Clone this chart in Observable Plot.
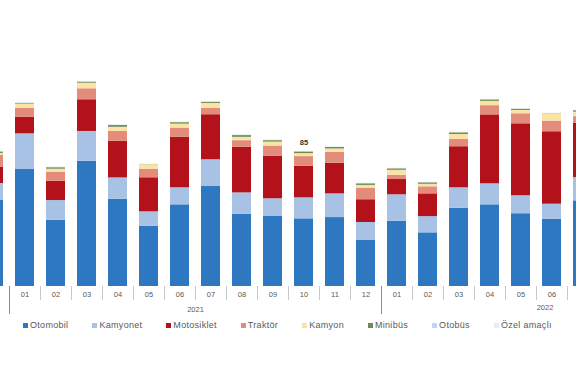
<!DOCTYPE html>
<html>
<head>
<meta charset="utf-8">
<script src="https://cdn.jsdelivr.net/npm/d3@7"></script>
<script src="https://cdn.jsdelivr.net/npm/@observablehq/plot@0.6"></script>
<style>
  html, body { margin: 0; padding: 0; background: #fff; }
  #wrap { position: relative; width: 576px; height: 384px; overflow: hidden; font-family: "Liberation Sans", Arial, sans-serif; }
  #chart { position: absolute; left: -22.5px; top: 0; width: 620px; height: 326px; }
  #chart svg { max-width: none !important; width: 620px; height: 326px; }
  #legend { position: absolute; left: 23px; top: 320px; display: flex; gap: 24px; font-size: 9px; color: #595959; letter-spacing: 0.3px; white-space: nowrap; }
  #legend span.item { display: flex; align-items: center; }
  #legend span.sw { display: inline-block; width: 5px; height: 5px; margin-right: 2px; }
</style>
</head>
<body>
<div id="wrap">
  <div id="chart"></div>
  <div id="legend"></div>
</div>
<script>
const months = ["2020-12","2021-01","2021-02","2021-03","2021-04","2021-05","2021-06","2021-07","2021-08","2021-09","2021-10","2021-11","2021-12","2022-01","2022-02","2022-03","2022-04","2022-05","2022-06","2022-07"];
const monthLabels = ["12","01","02","03","04","05","06","07","08","09","10","11","12","01","02","03","04","05","06","07"];
const types = ["Otomobil","Kamyonet","Motosiklet","Traktör","Kamyon","Minibüs","Otobüs","Özel amaçlı"];
const colors = ["#2E78C2","#A7C2E4","#B3121A","#E38C7C","#FBE3A4","#6E8B52","#BDD7EE","#E2EEF8"];

// thousands
const otomobil   = [54.0, 73.5, 41.6, 78.7, 54.8, 37.9, 51.3, 62.8, 45.4, 44.0, 42.5, 43.3, 28.9, 41.0, 33.7, 49.2, 51.3, 45.7, 42.3, 53.8];
const kamyonet   = [10.7, 22.4, 12.4, 18.7, 13.4,  9.0, 10.7, 16.8, 13.4, 11.1, 13.2, 14.9, 11.3, 16.6, 10.2, 12.8, 13.2, 11.3,  9.4, 14.6];
const motosiklet = [10.1, 10.5, 12.1, 19.9, 23.0, 21.4, 31.8, 28.3, 28.6, 26.6, 19.8, 19.2, 14.3,  9.6, 14.3, 25.8, 43.3, 45.2, 45.5, 34.1];
const traktor    = [ 7.5,  5.5,  5.7,  6.9,  6.3,  5.4,  5.7,  4.0,  4.2,  6.5,  6.1,  6.9,  7.3,  2.7,  4.4,  4.6,  5.8,  6.3,  6.7,  4.2];
const kamyon     = [ 1.3,  2.7,  1.9,  3.5,  2.5,  2.8,  2.5,  3.1,  2.1,  2.5,  1.9,  2.1,  1.7,  3.1,  1.6,  3.1,  2.7,  2.1,  4.6,  2.8];
const minibus    = [ 0.9,  0.4,  0.9,  0.7,  1.1,  0.1,  0.9,  0.7,  1.1,  0.9,  1.0,  0.9,  1.0,  0.9,  0.9,  1.0,  0.9,  0.7,  0.1,  0.9];
const otobus     = [ 0.2,  0.2,  0.2,  0.2,  0.2,  0.1,  0.2,  0.2,  0.2,  0.2,  0.2,  0.2,  0.2,  0.2,  0.2,  0.2,  0.2,  0.2,  0.1,  0.2];
const ozel       = [ 0.2,  0.2,  0.2,  0.2,  0.2,  0.1,  0.2,  0.2,  0.2,  0.2,  0.2,  0.2,  0.2,  0.2,  0.2,  0.2,  0.2,  0.2,  0.1,  0.2];
const labelledMonths = ["2021-10"];
const years = ["2021","2022"];

const series = [otomobil, kamyonet, motosiklet, traktor, kamyon, minibus, otobus, ozel];
const data = months.flatMap((m, i) => types.map((t, j) => ({month: m, type: t, value: series[j][i]})));
const totals = months.map((m, i) => ({month: m, total: d3.sum(series, s => s[i])}));

const step = 31;
const chart = Plot.plot({
  width: 620,
  height: 326,
  marginLeft: 0,
  marginRight: 0,
  marginTop: 16,
  marginBottom: 40,
  x: {type: "band", domain: months, paddingInner: 0.4, paddingOuter: 0.2, axis: null, label: null},
  y: {domain: [0, 169.6], axis: null},
  color: {domain: types, range: colors},
  style: {fontFamily: "'Liberation Sans', Arial, sans-serif", fontSize: "7.5px", color: "#595959", background: "transparent"},
  marks: [
    Plot.barY(data, {x: "month", y: "value", fill: "type"}),
    Plot.text(totals.filter(d => labelledMonths.includes(d.month)), {x: "month", y: "total", text: d => Math.round(d.total), dy: -9, fill: "#333", fontWeight: "bold", fontSize: 7.5}),
    Plot.axisX({ticks: months.slice(1, -1), tickSize: 0, tickPadding: 5, label: null, tickFormat: d => monthLabels[months.indexOf(d)], fill: "#595959"}),
    Plot.axisX({ticks: months, tickSize: 14, label: null, tickFormat: () => "", dx: step / 2, stroke: "#c8c8c8"}),
    Plot.axisX({ticks: ["2020-12","2021-12"], tickSize: 28, label: null, tickFormat: () => "", dx: step / 2, stroke: "#8c8c8c"}),
    Plot.axisX({ticks: ["2021-06"], tickSize: 0, tickPadding: 20, label: null, tickFormat: () => years[0], dx: step / 2, fill: "#595959"}),
    Plot.axisX({ticks: ["2022-06"], tickSize: 0, tickPadding: 18, label: null, tickFormat: () => years[1], dx: -7, fill: "#595959"})
  ]
});
document.getElementById("chart").appendChild(chart);

const legend = document.getElementById("legend");
types.forEach((t, j) => {
  const item = document.createElement("span");
  item.className = "item";
  const sw = document.createElement("span");
  sw.className = "sw";
  sw.style.background = colors[j];
  item.appendChild(sw);
  item.appendChild(document.createTextNode(t));
  legend.appendChild(item);
});
</script>
</body>
</html>
